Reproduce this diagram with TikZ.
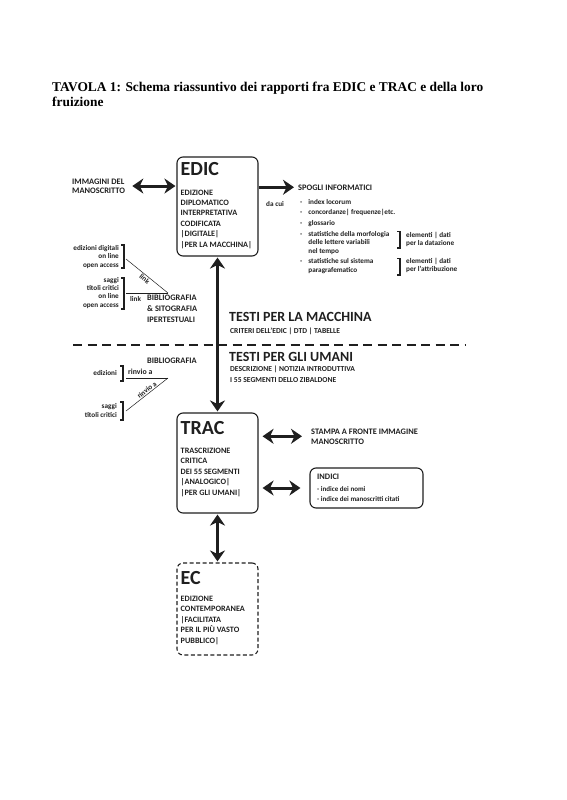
\documentclass[tikz,border=0pt]{standalone}
\usepackage{fontspec}
\setmainfont{Liberation Serif}
\newfontfamily\carlito{Carlito}
\usetikzlibrary{arrows.meta,positioning,calc}
\definecolor{fg}{rgb}{0.12,0.12,0.12}
\tikzstyle{box}=[draw=fg, line width=1.1pt, rounded corners=6pt, minimum width=81pt,
minimum height=99pt, inner sep=0pt]
\tikzstyle{boxtitle}=[anchor=base west, inner sep=0pt, text=fg,
font=\carlito\bfseries\fontsize{20}{20}\selectfont]
\tikzstyle{boxtext}=[anchor=base west, inner sep=0pt, align=left, text=fg,
font=\carlito\bfseries\fontsize{8.2}{10.4}\selectfont]
\tikzstyle{lbl}=[anchor=base west, inner sep=0pt, align=left, text=fg,
font=\carlito\bfseries\fontsize{8.4}{9}\selectfont]
\tikzstyle{tiny}=[anchor=base west, inner sep=0pt, align=left, text=fg,
font=\carlito\bfseries\fontsize{7.2}{8.3}\selectfont]
\tikzstyle{head}=[anchor=base west, inner sep=0pt, text=fg,
font=\carlito\bfseries\fontsize{14}{14}\selectfont]
\tikzstyle{myarrow}=[{Stealth[length=11pt,width=15pt,inset=3.5pt]}-{Stealth[length=11pt,width=15pt,inset=3.5pt]},
line width=3pt, draw=fg, shorten <=1pt, shorten >=1pt]
\tikzstyle{onearrow}=[-{Stealth[length=11pt,width=15pt,inset=3.5pt]}, line width=3pt, draw=fg]
\tikzstyle{bracket}=[line width=1.1pt, draw=fg]
\tikzstyle{link}=[line width=0.5pt, draw=fg]

\begin{document}
\begin{tikzpicture}[x=1pt, y=-1pt]
    \useasboundingbox (0,0) rectangle (566,800);

    % multi-line nodes are placed at the baseline of their last line
    \node[anchor=base west, inner sep=0pt, align=left,
      font=\bfseries\fontsize{13.4}{15}\selectfont] (title) at (52,106)
      {TAVOLA 1: Schema riassuntivo dei rapporti fra EDIC e TRAC e della loro\\fruizione};

    % EDIC
    \node[box] (edic) at (217.5,206.5) {};
    \node[boxtitle] (edict) at (180.5,175) {EDIC};
    \node[boxtext] (edicb) at (180.5,247)
      {EDIZIONE\\DIPLOMATICO\\INTERPRETATIVA\\CODIFICATA\\|DIGITALE|\\|PER LA MACCHINA|};

    \node[lbl, font=\carlito\bfseries\fontsize{8.4}{8.5}\selectfont] (imm) at (72,193) {IMMAGINI DEL\\MANOSCRITTO};
    \draw[myarrow] ([xshift=6pt]imm.east) -- (imm.east -| edic.west);

    \node[lbl] (spogli) at (298,190) {SPOGLI INFORMATICI};
    \draw[onearrow] (edic.east |- spogli.west) -- ([xshift=-4pt]spogli.west);
    \node[tiny] (dacui) at (266,206) {da cui};
    \node[tiny] (lista) at (300,204) {\begin{tabular}[t]{@{}l@{\hspace{6pt}}l@{}}
      - & index locorum\\[2.5pt]
      - & concordanze|\ frequenze|etc.\\[2.5pt]
      - & glossario\\[2.5pt]
      - & statistiche della morfologia\\
        & delle lettere variabili\\
        & nel tempo\\[2.5pt]
      - & statistiche sul sistema\\
        & paragrafematico
    \end{tabular}};
    \draw[bracket] (397,231.5) -- (400,231.5) -- (400,248) -- (397,248);
    \draw[bracket] (397,258.5) -- (400,258.5) -- (400,275) -- (397,275);
    \node[tiny] (dati1) at (406,245.5) {elementi | dati\\per la datazione};
    \node[tiny] (dati2) at (406,271.5) {elementi | dati\\per l’attribuzione};

    % bibliografia e sitografia
    \node[tiny, anchor=base east, align=right] (edig) at (119,267) {edizioni digitali\\on line\\open access};
    \node[tiny, anchor=base east, align=right] (saggi) at (119,307) {saggi\\titoli critici\\on line\\open access};
    \draw[bracket] (121,245) -- (124,245) -- (124,268) -- (121,268);
    \draw[bracket] (121,278) -- (124,278) -- (124,309) -- (121,309);
    \coordinate (b1) at (126,259);
    \coordinate (b2) at (126,293);
    \coordinate (j1) at (168,293);
    \draw[link] (b1) -- node[tiny, sloped, anchor=north, pos=0.5, yshift=-1pt] (link1) {link} (j1);
    \draw[link] (b2) -- (j1);
    \node[tiny] (link2) at (130,301) {link};
    \node[lbl, font=\carlito\bfseries\fontsize{8.4}{11}\selectfont] (biblio) at (147,322)
      {BIBLIOGRAFIA\\\& SITOGRAFIA\\IPERTESTUALI};

    % testi
    \node[head] (macchina) at (229,321) {TESTI PER LA MACCHINA};
    \node[tiny, font=\carlito\bfseries\fontsize{7.6}{8}\selectfont] (criteri) at (230,333) {CRITERI DELL’EDIC | DTD | TABELLE};
    \draw[line width=2.2pt, draw=fg, dash pattern=on 9pt off 5.5pt] (73,345) -- (466,345);
    \node[head] (umani) at (229,361) {TESTI PER GLI UMANI};
    \node[tiny, font=\carlito\bfseries\fontsize{7.6}{11}\selectfont] (descr) at (230,382)
      {DESCRIZIONE | NOTIZIA INTRODUTTIVA\\I 55 SEGMENTI DELLO ZIBALDONE};

    % bibliografia (rinvii)
    \node[lbl] (biblio2) at (147,363) {BIBLIOGRAFIA};
    \node[tiny, anchor=base east] (ediz) at (117,375) {edizioni};
    \node[tiny, anchor=base east, align=right] (saggi2) at (117,417) {saggi\\titoli critici};
    \draw[bracket] (120,366) -- (123,366) -- (123,381) -- (120,381);
    \draw[bracket] (120,402) -- (123,402) -- (123,420) -- (120,420);
    \node[tiny, font=\carlito\bfseries\fontsize{7.8}{8}\selectfont] (rinvio1) at (128,374.5) {rinvio a};
    \coordinate (b3) at (126,378);
    \coordinate (b4) at (126,411);
    \coordinate (j2) at (168,378);
    \draw[link] (b3) -- (j2);
    \draw[link] (b4) -- node[tiny, sloped, anchor=south, pos=0.55, yshift=1pt] (rinvio2) {rinvio a} (j2);

    % TRAC
    \node[box, minimum height=100pt] (trac) at (217.5,463) {};
    \node[boxtitle] (tract) at (180.5,434) {TRAC};
    \node[boxtext] (tracb) at (180.5,495)
      {TRASCRIZIONE\\CRITICA\\DEI 55 SEGMENTI\\|ANALOGICO|\\|PER GLI UMANI|};
    \draw[myarrow] (edic.south) -- (trac.north);

    \node[lbl, font=\carlito\bfseries\fontsize{8.4}{10}\selectfont] (stampa) at (311,444) {STAMPA A FRONTE IMMAGINE\\MANOSCRITTO};
    \draw[myarrow] ([xshift=3pt]stampa.west -| trac.east) -- ([xshift=-8pt]stampa.west);

    \node[box, minimum width=113pt, minimum height=40pt] (indici) at (366.5,488) {};
    \node[lbl] (indicit) at (317,479) {INDICI};
    \node[tiny, font=\carlito\bfseries\fontsize{7}{10}\selectfont] (indicib) at (317,501)
      {- indice dei nomi\\- indice dei manoscritti citati};
    \draw[myarrow] ([xshift=3pt]indici.west -| trac.east) -- ([xshift=-8pt]indici.west);

    % EC
    \node[box, dash pattern=on 4pt off 2.5pt, minimum height=92pt] (ec) at (217.5,609) {};
    \node[boxtitle] (ect) at (180.5,584) {EC};
    \node[boxtext] (ecb) at (180.5,643)
      {EDIZIONE\\CONTEMPORANEA\\|FACILITATA\\PER IL PIÙ VASTO\\PUBBLICO|};
    \draw[myarrow] (trac.south) -- (ec.north);
\end{tikzpicture}
\end{document}
